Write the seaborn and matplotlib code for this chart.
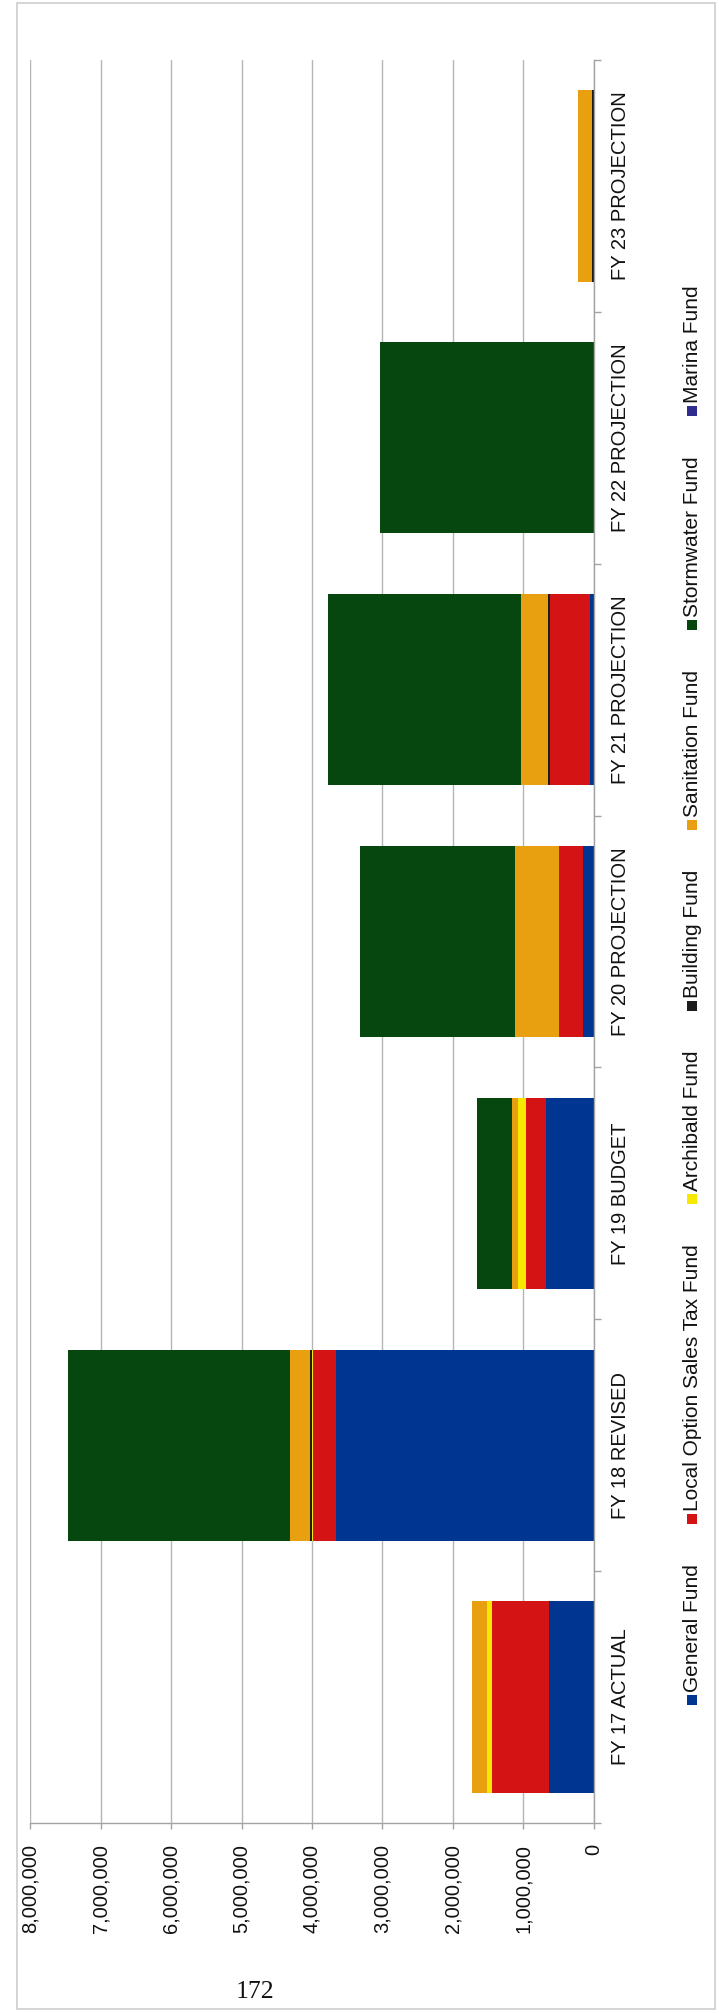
import numpy as np
import pandas as pd
import matplotlib
matplotlib.use("Agg")
import matplotlib.pyplot as plt
import seaborn as sns
from matplotlib.patches import Rectangle
from matplotlib.ticker import FuncFormatter

# ---- data -------------------------------------------------------------
categories = ["FY 17 ACTUAL", "FY 18 REVISED", "FY 19 BUDGET", "FY 20 PROJECTION",
              "FY 21 PROJECTION", "FY 22 PROJECTION", "FY 23 PROJECTION"]

general_fund = [640000, 3660000, 685000, 160000, 60000, 20000, 5000]
local_option_sales_tax_fund = [800000, 330000, 280000, 340000, 560000, 0, 0]
archibald_fund = [78000, 15000, 120000, 0, 0, 0, 0]
building_fund = [0, 20000, 0, 0, 30000, 0, 30000]
sanitation_fund = [215000, 285000, 80000, 620000, 380000, 0, 190000]
stormwater_fund = [0, 3150000, 495000, 2200000, 2740000, 3020000, 0]
marina_fund = [0, 0, 0, 0, 0, 0, 0]

series_names = ["General Fund", "Local Option Sales Tax Fund", "Archibald Fund",
                "Building Fund", "Sanitation Fund", "Stormwater Fund", "Marina Fund"]
series_values = [general_fund, local_option_sales_tax_fund, archibald_fund,
                 building_fund, sanitation_fund, stormwater_fund, marina_fund]
series_colors = ["#003591", "#d41414", "#f7e800", "#1c1c1c",
                 "#e8a010", "#06460f", "#302c8e"]

value_ticks = list(range(0, 8000001, 1000000))

# ---- style ------------------------------------------------------------
sns.set_theme(style="whitegrid")
plt.rcParams["font.family"] = ["Liberation Sans", "DejaVu Sans"]

W, H = 719, 2013
fig = plt.figure(figsize=(W / 100, H / 100), dpi=100)
fig.patch.set_facecolor("white")

# plot area in pixels (from top-left): x 30..594, y 60..1823
px_left, px_right, px_top, px_bottom = 30, 594, 60, 1823
ax = fig.add_axes([px_left / W, (H - px_bottom) / H,
                   (px_right - px_left) / W, (px_bottom - px_top) / H])
ax.set_facecolor("white")

# stacked horizontal bars drawn as overlapping cumulative totals
cum = np.cumsum(np.array(series_values, dtype=float), axis=0)
order = categories[::-1]
for k in range(len(series_names) - 1, -1, -1):
    df = pd.DataFrame({"category": categories, "value": cum[k]})
    sns.barplot(data=df, x="value", y="category", order=order, orient="h",
                color=series_colors[k], saturation=1, width=0.76,
                linewidth=0, errorbar=None, ax=ax)

ax.set_xlim(8000000, 0)
ax.set_ylim(len(categories) - 0.5, -0.5)
ax.set_xlabel("")
ax.set_ylabel("")

grid_col = "#b5b5b5"
axis_col = "#a3a3a3"
ax.xaxis.grid(True, color=grid_col, linewidth=1.0)
ax.yaxis.grid(False)
ax.set_axisbelow(True)

for side in ["left", "top"]:
    ax.spines[side].set_visible(False)
for side in ["right", "bottom"]:
    ax.spines[side].set_visible(True)
    ax.spines[side].set_color(axis_col)
    ax.spines[side].set_linewidth(1.0)

# value axis
ax.set_xticks(value_ticks)
ax.xaxis.set_major_formatter(FuncFormatter(lambda v, p: f"{int(round(v)):,}"))
ax.tick_params(axis="x", which="major", bottom=True, length=4, width=1,
               color=axis_col, pad=11, labelsize=14.5, labelcolor="#111111",
               labelrotation=90)

# category axis on the right
ax.yaxis.tick_right()
ax.set_yticks(range(len(order)))
ax.set_yticklabels(order)
ax.set_yticks(np.arange(-0.5, len(order), 1.0), minor=True)
ax.tick_params(axis="y", which="major", length=0, pad=12, labelsize=14.5,
               labelcolor="#111111", labelright=True, labelleft=False,
               labelrotation=90)
ax.tick_params(axis="y", which="minor", length=5, width=1, color=axis_col,
               right=True, left=False)
for tl in ax.get_yticklabels():
    tl.set_va("center")
    tl.set_ha("left")

# legend: rotated entries stacked upward along the right edge
renderer = fig.canvas.get_renderer()
x_c = 692
y_px = 1705
marker = 10
for name, color in zip(series_names, series_colors):
    fig.add_artist(Rectangle(((x_c - marker / 2) / W, (H - y_px) / H),
                             marker / W, marker / H, transform=fig.transFigure,
                             facecolor=color, edgecolor="none"))
    y_px -= marker + 3
    t = fig.text(x_c / W, (H - y_px) / H, name, rotation=90, ha="center",
                 va="bottom", fontsize=15, color="#111111")
    ext = t.get_window_extent(renderer)
    y_px -= ext.height + 40

# page frame and page number
fig.add_artist(Rectangle((17 / W, (H - 2009) / H), (715 - 17) / W, (2009 - 3) / H,
                         transform=fig.transFigure, fill=False,
                         edgecolor="#cdcdcd", linewidth=1.2))
fig.text(255 / W, (H - 1992) / H, "172", family=["Liberation Serif", "DejaVu Serif"],
         fontsize=18.5, ha="center", va="center", color="#111111")

fig.savefig("out.png", dpi=100, facecolor="white")
